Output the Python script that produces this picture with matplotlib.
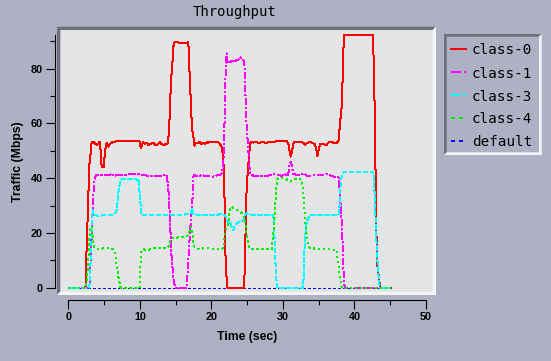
import matplotlib
matplotlib.use("Agg")
import matplotlib.pyplot as plt
from matplotlib.patches import Polygon, Rectangle

# ---------------- data ----------------
title = "Throughput"
xlabel = "Time (sec)"
ylabel = "Traffic (Mbps)"
series_names = ["class-0", "class-1", "class-3", "class-4", "default"]
xticks = [0, 10, 20, 30, 40, 50]
yticks = [0, 20, 40, 60, 80]

class0_t = [2.40, 2.47, 2.66, 2.85, 2.98, 3.13, 3.27, 3.50, 3.73, 3.97, 4.20, 4.43, 4.57, 4.66, 4.95,
            5.04, 5.22, 5.36, 5.60, 5.83, 6.06, 6.29, 6.99, 9.93, 10.12, 10.49, 10.72, 10.95, 11.19,
            11.42, 11.89, 12.12, 12.35, 12.58, 12.82, 13.05, 13.28, 13.66, 13.89, 14.08, 14.22, 14.36,
            14.54, 14.68, 14.82, 15.30, 15.80, 16.40, 16.78, 16.87, 17.01, 17.15, 17.29, 17.48, 17.62,
            17.85, 18.08, 18.32, 18.64, 18.87, 19.11, 19.34, 19.57, 19.81, 20.27, 20.97, 21.20, 21.44,
            21.58, 21.67, 21.80, 22.00, 22.25, 24.60, 24.65, 24.80, 24.93, 25.07, 25.21, 25.30, 25.40,
            25.63, 25.87, 26.33, 26.56, 27.03, 27.50, 27.73, 27.96, 28.43, 29.36, 30.52, 30.76, 30.90,
            31.08, 31.27, 31.46, 31.69, 32.39, 32.85, 33.09, 33.32, 33.78, 34.48, 34.72, 34.81, 35.00,
            35.18, 35.65, 36.12, 36.35, 36.58, 37.05, 37.52, 37.75, 37.88, 37.98, 38.21, 38.35, 38.44,
            38.58, 42.63, 42.68, 42.91, 42.96, 43.10, 43.24, 43.43, 43.57, 45.05]
class0_v = [0.0, 7.7, 22.0, 37.5, 46.6, 49.1, 53.4, 53.4, 52.7, 52.2, 52.7, 53.4, 48.1, 44.2, 44.2,
            47.0, 51.5, 53.0, 51.5, 52.5, 53.0, 53.2, 53.6, 53.6, 51.1, 53.2, 52.5, 53.0, 52.2,
            52.5, 53.0, 52.3, 52.0, 52.7, 53.1, 52.5, 52.0, 52.5, 52.7, 57.0, 66.1, 75.9,
            81.4, 88.0, 89.6, 89.6, 89.3, 89.5, 89.6, 83.2, 74.7, 66.1, 58.2, 55.2, 51.9,
            53.0, 52.7, 53.4, 52.4, 53.0, 52.5, 53.2, 53.0, 53.2, 53.2, 53.1, 52.4, 51.5,
            49.1, 46.6, 38.1, 7.7, 0.0, 0.0, 7.7, 22.3, 36.9, 41.8, 46.6, 49.1, 52.7,
            53.4, 53.0, 53.4, 52.7, 53.2, 53.0, 52.7, 53.2, 53.1, 53.6, 53.6, 52.5, 50.3,
            47.9, 49.7, 52.7, 53.4, 53.2, 53.0, 52.2, 52.7, 53.2, 52.5, 49.7, 48.1, 50.3,
            52.5, 52.4, 52.2, 53.0, 53.4, 53.0, 53.0, 53.4, 57.0, 59.4, 66.1, 76.5, 86.8,
            92.3, 92.3, 80.7, 57.6, 34.5, 16.3, 6.5, 4.0, 0.0, 0.0]

class1_t = [0.0, 2.94, 3.13, 3.31, 3.50, 3.64, 3.87, 5.83, 6.06, 6.29, 9.32, 11.42, 12.82, 13.75, 13.84,
            14.03, 14.22, 14.40, 14.68, 14.92, 16.55, 16.78, 17.01, 17.24, 17.38, 17.48, 17.62, 18.08,
            18.64, 19.11, 19.81, 20.27, 20.97, 21.20, 21.44, 21.67, 21.90, 22.00, 22.14, 22.25, 22.60,
            22.84, 23.16, 23.77, 24.00, 24.37, 24.61, 24.70, 24.79, 24.93, 25.17, 25.30, 25.49, 26.10,
            26.80, 27.73, 28.89, 29.36, 29.83, 30.29, 30.52, 30.76, 30.90, 31.08, 31.27, 31.46, 31.92,
            33.09, 33.32, 33.78, 34.48, 35.65, 36.12, 36.35, 37.05, 37.75, 37.88, 37.98, 38.21, 38.35,
            38.44, 38.63, 45.05]
class1_v = [0.0, 0.0, 10.1, 22.3, 33.2, 39.3, 41.2, 41.2, 41.8, 40.9, 41.6, 40.8, 40.9, 41.2, 39.3,
            34.5, 24.7, 12.6, 4.0, 0.0, 0.0, 10.1, 20.0, 28.4, 33.2, 40.6, 41.2, 40.6,
            41.2, 40.8, 40.6, 40.6, 41.2, 41.2, 41.8, 44.2, 66.1, 80.7, 85.6, 82.6, 82.0,
            83.2, 82.8, 83.2, 84.2, 83.8, 82.0, 75.9, 68.6, 58.8, 50.3, 44.2, 41.2, 40.8,
            40.8, 40.8, 41.6, 41.2, 40.8, 41.6, 40.6, 41.8, 44.5, 46.0, 44.2, 41.6, 41.2,
            41.6, 40.8, 40.8, 41.2, 41.2, 41.6, 41.2, 40.6, 40.6, 38.1, 33.2, 24.7, 16.2,
            7.7, 0.0, 0.0]

class3_t = [0.0, 2.94, 3.13, 3.27, 3.41, 3.50, 3.73, 4.06, 4.43, 4.90, 5.83, 6.29, 6.53, 6.76, 6.85,
            6.99, 7.13, 7.32, 7.50, 9.50, 9.70, 9.79, 9.89, 10.02, 10.16, 10.25, 15.20, 16.78, 17.15,
            17.29, 17.48, 18.64, 20.27, 21.44, 21.90, 22.14, 22.37, 22.60, 22.84, 23.07, 23.30, 23.54,
            24.00, 24.47, 24.70, 24.93, 25.50, 28.66, 28.75, 28.85, 28.94, 29.04, 29.22, 32.85, 32.94,
            33.09, 33.23, 33.32, 33.55, 33.78, 37.75, 37.88, 37.98, 38.07, 38.21, 38.35, 38.54, 42.63,
            42.72, 42.86, 43.00, 43.14, 43.33, 43.47, 43.57, 45.05]
class3_v = [0.0, 0.0, 10.1, 19.9, 28.4, 26.6, 26.6, 26.2, 26.2, 26.6, 26.6, 26.6, 27.2, 28.4, 30.8,
            34.5, 36.9, 39.3, 39.7, 39.7, 39.1, 39.7, 36.9, 33.2, 28.4, 26.6, 26.6, 26.8, 27.2,
            29.1, 26.8, 26.6, 26.6, 26.8, 26.6, 24.7, 23.5, 24.1, 22.3, 21.1, 22.9, 23.5,
            24.1, 24.7, 26.6, 27.2, 26.6, 26.6, 23.6, 16.2, 10.1, 4.0, 0.0, 0.0, 10.1,
            17.4, 22.3, 24.1, 25.3, 26.6, 26.6, 28.4, 33.2, 38.1, 40.6, 41.8, 42.4, 42.4,
            39.3, 32.0, 22.3, 12.6, 5.3, 1.6, 0.0, 0.0]

class4_t = [0.0, 2.47, 2.66, 2.80, 2.94, 3.03, 3.27, 3.50, 3.73, 4.20, 4.90, 5.60, 5.83, 6.29, 6.53,
            6.66, 6.76, 6.99, 7.13, 7.32, 9.95, 10.02, 10.16, 10.25, 10.49, 10.95, 11.42, 11.89, 12.82,
            13.28, 13.75, 13.98, 14.12, 14.22, 14.45, 14.92, 15.15, 15.60, 16.08, 16.55, 16.78, 17.01,
            17.15, 17.29, 17.38, 17.48, 17.62, 17.94, 18.41, 18.87, 19.57, 20.27, 20.74, 21.20, 21.67,
            21.81, 21.90, 22.14, 22.37, 22.60, 22.84, 23.07, 23.54, 24.00, 24.23, 24.47, 24.70, 24.84,
            25.03, 25.17, 25.40, 25.86, 26.33, 27.70, 28.43, 28.57, 28.75, 28.89, 29.04, 29.13, 29.27,
            29.60, 30.29, 31.00, 31.46, 31.92, 32.62, 32.75, 32.94, 33.09, 33.23, 33.42, 33.55, 33.78,
            34.25, 34.72, 35.42, 36.12, 36.82, 37.52, 37.65, 37.79, 37.98, 38.21, 45.05]
class4_v = [0.0, 0.0, 5.3, 10.1, 17.4, 22.3, 22.3, 15.6, 14.4, 14.0, 14.4, 14.4, 14.0, 14.0, 13.2,
            11.3, 7.7, 4.0, 2.2, 0.0, 0.0, 5.3, 11.3, 13.8, 14.0, 13.8, 14.0, 14.4, 14.4,
            14.4, 14.4, 15.0, 15.6, 17.4, 18.0, 18.0, 18.3, 18.4, 18.4, 18.9, 19.3, 21.1,
            22.3, 21.7, 18.6, 16.2, 15.0, 14.4, 14.0, 14.4, 14.4, 14.0, 14.0, 14.0, 14.4,
            17.4, 19.9, 22.3, 23.5, 28.4, 29.6, 29.0, 28.4, 27.8, 27.2, 26.6, 24.7, 21.1,
            17.4, 15.6, 14.4, 14.0, 14.0, 14.0, 14.0, 17.4, 22.3, 28.4, 34.5, 38.1, 40.0,
            40.0, 40.0, 38.7, 39.3, 40.0, 39.3, 36.9, 30.8, 24.7, 21.1, 17.4, 15.6, 14.4,
            14.4, 14.0, 14.0, 14.0, 14.0, 13.8, 10.1, 7.7, 4.0, 0.0, 0.0]

default_t = [0.0, 45.0]
default_v = [0.0, 0.0]

# ---------------- style ----------------
W, H = 551, 361
BG = "#aeb1c3"
PANEL = "#e5e5e5"
DARK = "#6e707e"
LIGHT = "#f4f5f8"
colors = ["#ff0000", "#ff00ff", "#00ffff", "#00ee00", "#0000ff"]
dashes = [None, (6.0, 2.2, 1.2, 2.2), (5.0, 2.2), (2.0, 3.0), (2.2, 2.8)]
LW = 0.72

fig = plt.figure(figsize=(W / 100, H / 100), dpi=100, facecolor=BG)

# overlay in pixel coordinates
bg = fig.add_axes([0, 0, 1, 1])
bg.set_xlim(0, W)
bg.set_ylim(H, 0)
bg.axis("off")
bg.set_zorder(0)


def bevel(ax, x0, y0, x1, y1, w, fill):
    ax.add_patch(Rectangle((x0, y0), x1 - x0, y1 - y0, facecolor=fill, edgecolor="none"))
    ax.add_patch(Polygon([(x0, y1), (x0, y0), (x1, y0), (x1 - w, y0 + w), (x0 + w, y0 + w), (x0 + w, y1 - w)],
                         closed=True, facecolor=DARK, edgecolor="none"))
    ax.add_patch(Polygon([(x1, y0), (x1, y1), (x0, y1), (x0 + w, y1 - w), (x1 - w, y1 - w), (x1 - w, y0 + w)],
                         closed=True, facecolor=LIGHT, edgecolor="none"))


bevel(bg, 57.0, 26.7, 436.0, 295.0, 3.3, PANEL)
bevel(bg, 444.0, 34.0, 541.7, 155.0, 2.7, BG)

# title
bg.text(234.5, 15.8, title, ha="center", va="baseline", family="DejaVu Sans Mono", fontsize=10, color="black")

# data axes
x0p, x1p, y0p, y1p = 68.3, 426.0, 287.7, 35.0
ax = fig.add_axes([x0p / W, (H - y0p) / H, (x1p - x0p) / W, (y0p - y1p) / H])
ax.set_zorder(2)
ax.patch.set_visible(False)
ax.set_xlim(0, 50)
ax.set_ylim(0, 92.3)
for s in ("top", "right"):
    ax.spines[s].set_visible(False)
ax.spines["left"].set_position(("outward", 13.3 * 0.72))
ax.spines["bottom"].set_position(("outward", 11.8 * 0.72))
for s in ("left", "bottom"):
    ax.spines[s].set_linewidth(0.8)
ax.set_xticks(xticks)
ax.set_xticks([5, 15, 25, 35, 45], minor=True)
ax.set_yticks(yticks)
ax.set_yticks([10, 30, 50, 70, 90], minor=True)
ax.tick_params(which="major", length=6.3, width=0.8, direction="out", pad=2.4)
ax.tick_params(which="minor", length=3.4, width=0.8, direction="out")
ax.tick_params(axis="x", which="major", pad=3.0)
for lab in ax.get_xticklabels() + ax.get_yticklabels():
    lab.set_family("Liberation Sans")
    lab.set_fontweight("bold")
    lab.set_fontsize(7.8)

all_t = [class0_t, class1_t, class3_t, class4_t, default_t]
all_v = [class0_v, class1_v, class3_v, class4_v, default_v]
order = [4, 0, 1, 2, 3]
for z, i in enumerate(order):
    kw = dict(color=colors[i], lw=LW, clip_on=False, zorder=3 + z, antialiased=False)
    line, = ax.plot(all_t[i], all_v[i], **kw)
    if dashes[i] is not None:
        line.set_dashes(dashes[i])

# axis labels
bg.text(246.7, 340.0, xlabel, ha="center", va="baseline", family="Liberation Sans",
        fontweight="bold", fontsize=8.8)
bg.text(18.3, 161.7, ylabel, ha="center", va="center", rotation=90, family="Liberation Sans",
        fontweight="bold", fontsize=8.8)

# legend
rows = [49.0, 72.3, 95.3, 118.0, 140.5]
for i, name in enumerate(series_names):
    ln, = bg.plot([451, 465.5], [rows[i], rows[i]], color=colors[i], lw=1.2, antialiased=False)
    if dashes[i] is not None:
        ln.set_dashes(dashes[i])
    bg.text(471.7, rows[i] + 5.3, name, ha="left", va="baseline", family="DejaVu Sans Mono",
            fontsize=10.3, color="black")

fig.savefig("out.png", dpi=100, facecolor=BG)
